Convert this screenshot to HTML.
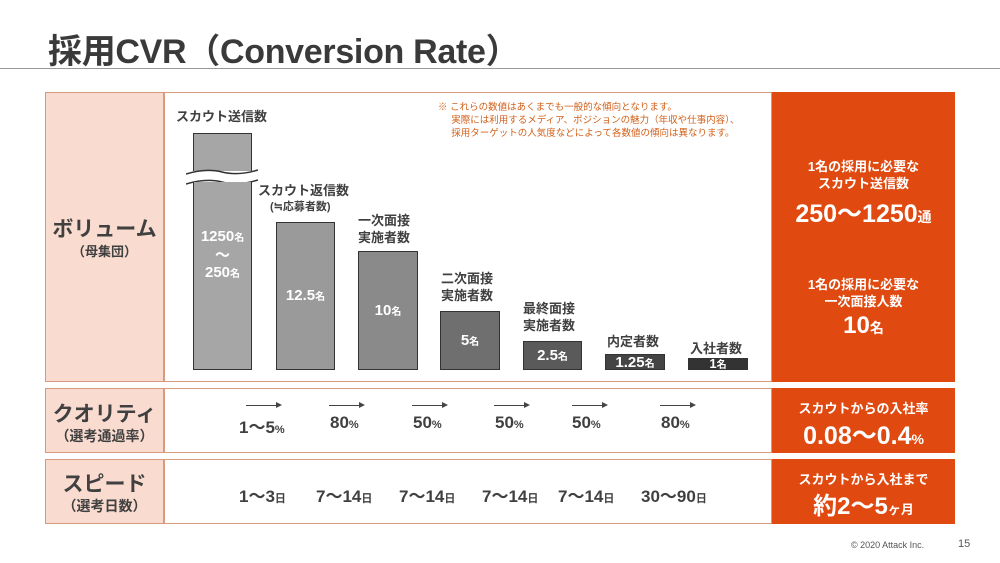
<!DOCTYPE html>
<html><head><meta charset="utf-8"><style>
*{margin:0;padding:0;box-sizing:border-box}
body{width:1000px;height:563px;background:#fff;position:relative;overflow:hidden;font-family:"Liberation Sans","Noto Sans CJK JP",sans-serif;color:#404040}
.a{position:absolute}
.c{text-align:center;white-space:nowrap}
.b{font-weight:bold}
.box{position:absolute;border:1px solid #d69a80}
.pink{background:#f9dbcf}
.or{background:#e0490f;color:#fff;border:none}
.bar{position:absolute;bottom:193px;border:1.5px solid #333}
.bl{position:absolute;color:#fff;font-weight:bold;font-size:15px;text-align:center;width:100%;white-space:nowrap}
.bl small{font-size:10px}
.lab{position:absolute;font-weight:bold;font-size:13px;line-height:17px;text-align:center;white-space:nowrap;color:#404040}
.arr{position:absolute;top:405px;height:1px;background:#444;width:34px}
.arr:after{content:"";position:absolute;right:-2px;top:-3px;border-left:6px solid #444;border-top:3.5px solid transparent;border-bottom:3.5px solid transparent}
.q{position:absolute;top:413px;font-weight:bold;font-size:17px;white-space:nowrap;color:#404040}
.q small{font-size:11px}
.s{position:absolute;top:482px;font-weight:bold;font-size:17px;white-space:nowrap;color:#404040}
.s small{font-size:11px}
</style></head><body>
<div class="a b" style="left:48px;top:24px;font-size:34px;letter-spacing:-0.3px;color:#3a3a3a;white-space:nowrap">採用CVR（Conversion Rate）</div>
<div class="a" style="left:0;top:68px;width:1000px;height:1px;background:#999"></div>

<!-- left column -->
<div class="box pink" style="left:45px;top:92px;width:119px;height:290px"></div>
<div class="box pink" style="left:45px;top:388px;width:119px;height:65px"></div>
<div class="box pink" style="left:45px;top:459px;width:119px;height:65px"></div>
<div class="a c b" style="left:45px;top:213px;width:119px;font-size:21px;color:#404040">ボリューム</div>
<div class="a c b" style="left:45px;top:241px;width:119px;font-size:13px">（母集団）</div>
<div class="a c b" style="left:45px;top:398px;width:119px;font-size:21px">クオリティ</div>
<div class="a c b" style="left:45px;top:426px;width:119px;font-size:14px">（選考通過率）</div>
<div class="a c b" style="left:45px;top:468px;width:119px;font-size:21px">スピード</div>
<div class="a c b" style="left:45px;top:496px;width:119px;font-size:14px">（選考日数）</div>

<!-- middle -->
<div class="box" style="left:164px;top:92px;width:608px;height:290px"></div>
<div class="box" style="left:164px;top:388px;width:608px;height:65px"></div>
<div class="box" style="left:164px;top:459px;width:608px;height:65px"></div>

<div class="a" style="left:438px;top:101px;font-size:9.5px;line-height:13px;color:#d2601a;white-space:nowrap">※ これらの数値はあくまでも一般的な傾向となります。<br>&nbsp;&nbsp;&nbsp;&nbsp;&nbsp;実際には利用するメディア、ポジションの魅力（年収や仕事内容）、<br>&nbsp;&nbsp;&nbsp;&nbsp;&nbsp;採用ターゲットの人気度などによって各数値の傾向は異なります。</div>

<!-- bar1 -->
<div class="lab" style="left:176px;top:108px">スカウト送信数</div>
<div class="a" style="left:193px;top:133px;width:59px;height:38px;background:#a6a6a6;border:1.5px solid #333;border-bottom:none"></div>
<svg class="a" style="left:186px;top:164px" width="72" height="30"><path d="M0 10 Q20 4 36 8 T72 6 L72 22 Q55 18 36 22 T0 20Z" fill="#fff"/><path d="M0 10 Q20 4 36 8 T72 6" stroke="#333" stroke-width="1.5" fill="none"/><path d="M0 20 Q20 14 36 18 T72 16" stroke="#333" stroke-width="1.5" fill="none"/></svg>
<div class="a" style="left:193px;top:182px;width:59px;height:188px;background:#a6a6a6;border:1.5px solid #333;border-top:none"></div>
<div class="bl" style="left:193px;width:59px;top:228px;line-height:17px">1250<small>名</small><br>～<br>250<small>名</small></div>

<div class="lab" style="left:258px;top:182px">スカウト返信数</div>
<div class="lab" style="left:270px;top:199px;font-size:11px">(≒応募者数)</div>
<div class="bar" style="left:276px;top:222px;width:59px;height:148px;background:#9a9a9a"><div class="bl" style="top:64px">12.5<small>名</small></div></div>

<div class="lab" style="left:358px;top:212px">一次面接<br>実施者数</div>
<div class="bar" style="left:358px;top:251px;width:60px;height:119px;background:#8a8a8a"><div class="bl" style="top:50px">10<small>名</small></div></div>

<div class="lab" style="left:441px;top:270px">二次面接<br>実施者数</div>
<div class="bar" style="left:440px;top:311px;width:60px;height:59px;background:#6f6f6f"><div class="bl" style="top:20px">5<small>名</small></div></div>

<div class="lab" style="left:523px;top:300px">最終面接<br>実施者数</div>
<div class="bar" style="left:523px;top:341px;width:59px;height:29px;background:#5a5a5a"><div class="bl" style="top:5px">2.5<small>名</small></div></div>

<div class="lab" style="left:607px;top:333px">内定者数</div>
<div class="bar" style="left:605px;top:354px;width:60px;height:16px;background:#444"><div class="bl" style="top:-1px">1.25<small>名</small></div></div>

<div class="lab" style="left:690px;top:340px">入社者数</div>
<div class="bar" style="left:688px;top:358px;width:60px;height:12px;background:#333"><div class="bl" style="top:-3px;font-size:13px">1<small>名</small></div></div>

<!-- quality -->
<div class="arr" style="left:246px"></div><div class="q" style="left:239px">1～5<small>%</small></div>
<div class="arr" style="left:329px"></div><div class="q" style="left:330px">80<small>%</small></div>
<div class="arr" style="left:412px"></div><div class="q" style="left:413px">50<small>%</small></div>
<div class="arr" style="left:494px"></div><div class="q" style="left:495px">50<small>%</small></div>
<div class="arr" style="left:572px"></div><div class="q" style="left:572px">50<small>%</small></div>
<div class="arr" style="left:660px"></div><div class="q" style="left:661px">80<small>%</small></div>

<!-- speed -->
<div class="s" style="left:239px">1～3<small>日</small></div>
<div class="s" style="left:316px">7～14<small>日</small></div>
<div class="s" style="left:399px">7～14<small>日</small></div>
<div class="s" style="left:482px">7～14<small>日</small></div>
<div class="s" style="left:558px">7～14<small>日</small></div>
<div class="s" style="left:641px">30～90<small>日</small></div>

<!-- right -->
<div class="box or" style="left:772px;top:92px;width:183px;height:290px"></div>
<div class="box or" style="left:772px;top:388px;width:183px;height:65px"></div>
<div class="box or" style="left:772px;top:459px;width:183px;height:65px"></div>
<div class="a c b" style="left:772px;top:158px;width:183px;font-size:13px;line-height:17px;color:#fff">1名の採用に必要な<br>スカウト送信数</div>
<div class="a c b" style="left:772px;top:194px;width:183px;font-size:25px;color:#fff">250～1250<span style="font-size:14px">通</span></div>
<div class="a c b" style="left:772px;top:276px;width:183px;font-size:13px;line-height:17px;color:#fff">1名の採用に必要な<br>一次面接人数</div>
<div class="a c b" style="left:772px;top:312px;width:183px;font-size:24px;color:#fff">10<span style="font-size:14px">名</span></div>
<div class="a c b" style="left:772px;top:398px;width:183px;font-size:13px;color:#fff">スカウトからの入社率</div>
<div class="a c b" style="left:772px;top:416px;width:183px;font-size:25px;color:#fff">0.08～0.4<span style="font-size:14px">%</span></div>
<div class="a c b" style="left:772px;top:469px;width:183px;font-size:13px;color:#fff">スカウトから入社まで</div>
<div class="a c b" style="left:772px;top:486px;width:183px;font-size:24px;color:#fff">約2～5<span style="font-size:13px">ヶ月</span></div>

<div class="a" style="left:851px;top:540px;font-size:9px;color:#555;white-space:nowrap">© 2020 Attack Inc.</div>
<div class="a" style="left:958px;top:538px;font-size:11px;color:#555">15</div>
</body></html>
